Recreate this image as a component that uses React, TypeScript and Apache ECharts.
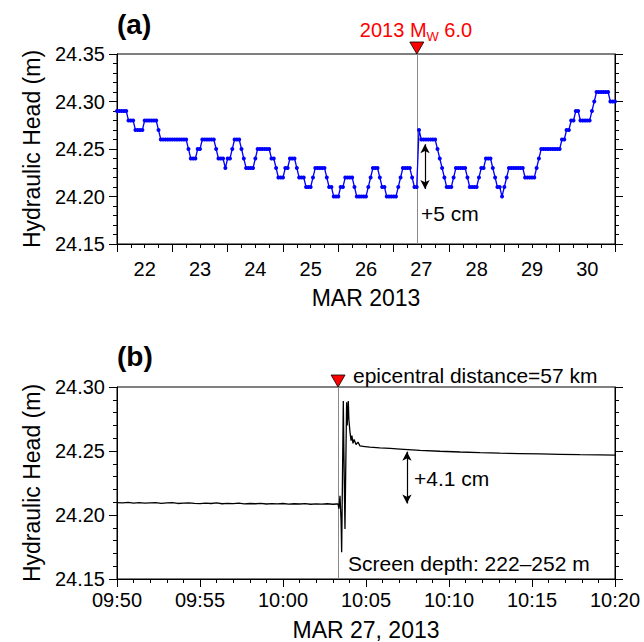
import React, { useEffect, useRef } from 'react';
import * as echarts from 'echarts';

const FONT = "'Liberation Sans', Arial, Helvetica, sans-serif";

// Panel (a): hourly hydraulic head, starting MAR 22 2013 00:00 (one value per hour)
const dayLabels = ['22', '23', '24', '25', '26', '27', '28', '29', '30'];
const headA = [
  // Mar 22
  24.29, 24.29, 24.29, 24.29, 24.29, 24.28, 24.28, 24.28, 24.27, 24.27, 24.27, 24.27,
  24.28, 24.28, 24.28, 24.28, 24.28, 24.28, 24.27, 24.26, 24.26, 24.26, 24.26, 24.26,
  // Mar 23
  24.26, 24.26, 24.26, 24.26, 24.26, 24.26, 24.26, 24.25, 24.24, 24.24, 24.24, 24.25,
  24.25, 24.26, 24.26, 24.26, 24.26, 24.26, 24.26, 24.25, 24.24, 24.24, 24.24, 24.23,
  // Mar 24
  24.24, 24.24, 24.25, 24.26, 24.26, 24.26, 24.25, 24.24, 24.23, 24.23, 24.23, 24.23,
  24.24, 24.25, 24.25, 24.25, 24.25, 24.25, 24.25, 24.24, 24.24, 24.23, 24.22, 24.22,
  // Mar 25
  24.22, 24.23, 24.23, 24.24, 24.24, 24.24, 24.23, 24.22, 24.22, 24.22, 24.21, 24.21,
  24.21, 24.22, 24.23, 24.23, 24.23, 24.23, 24.23, 24.22, 24.21, 24.21, 24.20, 24.20,
  // Mar 26
  24.20, 24.21, 24.21, 24.22, 24.22, 24.22, 24.22, 24.21, 24.20, 24.20, 24.20, 24.20,
  24.20, 24.21, 24.22, 24.23, 24.23, 24.23, 24.22, 24.21, 24.21, 24.20, 24.20, 24.20,
  // Mar 27
  24.20, 24.20, 24.21, 24.22, 24.23, 24.23, 24.23, 24.23, 24.22, 24.21, 24.21, 24.27,
  24.26, 24.26, 24.26, 24.26, 24.26, 24.26, 24.26, 24.25, 24.24, 24.23, 24.22, 24.21,
  // Mar 28
  24.21, 24.21, 24.22, 24.23, 24.23, 24.23, 24.23, 24.23, 24.22, 24.21, 24.21, 24.21,
  24.21, 24.22, 24.23, 24.23, 24.24, 24.24, 24.24, 24.23, 24.22, 24.21, 24.21, 24.20,
  // Mar 29
  24.21, 24.22, 24.23, 24.23, 24.23, 24.23, 24.23, 24.23, 24.23, 24.22, 24.22, 24.22,
  24.22, 24.22, 24.23, 24.24, 24.25, 24.25, 24.25, 24.25, 24.25, 24.25, 24.25, 24.25,
  // Mar 30
  24.25, 24.26, 24.26, 24.27, 24.27, 24.28, 24.28, 24.29, 24.29, 24.28, 24.28, 24.28,
  24.28, 24.28, 24.29, 24.30, 24.31, 24.31, 24.31, 24.31, 24.31, 24.31, 24.30, 24.30,
  // Mar 31 00:00
  24.30,
];
const eqHourA = 130.05; // 2013-03-27 10:03 local, in hours after MAR 22 00:00
const arrowA = { x: 133.6, top: 24.255, bottom: 24.208 };

// Panel (b): MAR 27 2013, seconds after 09:50:00
const timesB = [
  0, 20, 40, 60, 80, 100, 120, 140, 160, 180, 200, 220, 240, 260, 280, 300, 320, 340, 360, 380,
  400, 420, 440, 460, 480, 500, 520, 540, 560, 580, 600, 620, 640, 660, 680, 700, 720, 740, 760,
  780, 795, 799, 802, 806, 810, 812, 815, 818, 820, 824, 827, 830, 832, 836, 838, 842, 846, 849,
  853, 857, 864, 871, 878, 896, 914, 950, 987, 1023, 1095, 1167, 1240, 1312, 1384, 1456, 1529,
  1601, 1673, 1746, 1800,
];
const headB = [
  24.2097, 24.2094, 24.2098, 24.2093, 24.2096, 24.2092, 24.2095, 24.2097, 24.2091, 24.2094,
  24.2096, 24.209, 24.2093, 24.2095, 24.2091, 24.2089, 24.2093, 24.209, 24.2094, 24.2088,
  24.2091, 24.2089, 24.2092, 24.2087, 24.209, 24.2088, 24.2091, 24.2086, 24.2089, 24.2087,
  24.209, 24.2085, 24.2088, 24.2086, 24.2089, 24.2084, 24.2087, 24.2085, 24.2088, 24.2084,
  24.2086, 24.2086, 24.205, 24.215, 24.195, 24.171, 24.23, 24.289, 24.25, 24.189, 24.24,
  24.288, 24.27, 24.289, 24.275, 24.265, 24.258, 24.262, 24.256, 24.259, 24.255, 24.257,
  24.254, 24.2535, 24.253, 24.2525, 24.252, 24.2515, 24.2505, 24.2498, 24.2492, 24.2487,
  24.2483, 24.248, 24.2477, 24.2474, 24.2471, 24.2469, 24.2467,
];
const eqSecB = 799; // 10:03:19
const arrowB = { x: 1048, top: 24.2495, bottom: 24.209 };

const pad = (n: number) => (n < 10 ? '0' + n : '' + n);
const clockLabel = (sec: number) => {
  const m = 9 * 60 + 50 + Math.round(sec / 60);
  return pad(Math.floor(m / 60)) + ':' + pad(m % 60);
};

const black = '#000';
const axisLineStyle = { lineStyle: { color: black, width: 1 } };
const tickStyle = { length: 8, lineStyle: { color: black, width: 1 } };
const minorStyle = (n: number) => ({ show: true, splitNumber: n, length: 4, lineStyle: { color: black, width: 1 } });
const labelFont = { fontSize: 20, color: black, fontFamily: FONT };
const nameFont = { fontSize: 23, color: black, fontFamily: FONT };

function buildOption() {
  const yLeft = (grid: number, min: number, max: number) => ({
    gridIndex: grid,
    type: 'value',
    position: 'left',
    min,
    max,
    interval: 0.05,
    axisLine: { show: true, ...axisLineStyle },
    axisTick: tickStyle,
    minorTick: minorStyle(5),
    splitLine: { show: false },
    axisLabel: { ...labelFont, margin: 12, formatter: (v: number) => v.toFixed(2) },
    name: 'Hydraulic Head (m)',
    nameLocation: 'middle',
    nameGap: 74,
    nameRotate: 90,
    nameTextStyle: nameFont,
  });
  const yRight = (grid: number, min: number, max: number) => ({
    gridIndex: grid,
    type: 'value',
    position: 'right',
    min,
    max,
    interval: 0.05,
    axisLine: { show: true, ...axisLineStyle },
    axisTick: tickStyle,
    minorTick: minorStyle(5),
    splitLine: { show: false },
    axisLabel: { show: false },
  });

  return {
    animation: false,
    backgroundColor: '#fff',
    textStyle: { fontFamily: FONT },
    grid: [
      { left: 117, top: 54, width: 498, height: 190, show: true, borderColor: black, borderWidth: 1, backgroundColor: 'transparent' },
      { left: 117, top: 387, width: 498, height: 193, show: true, borderColor: black, borderWidth: 1, backgroundColor: 'transparent' },
    ],
    xAxis: [
      {
        gridIndex: 0,
        type: 'value',
        position: 'bottom',
        min: 0,
        max: 216,
        interval: 24,
        axisLine: { show: true, onZero: false, ...axisLineStyle },
        axisTick: tickStyle,
        minorTick: minorStyle(4),
        splitLine: { show: false },
        axisLabel: { show: false },
      },
      {
        gridIndex: 0,
        type: 'category',
        position: 'bottom',
        data: dayLabels,
        boundaryGap: true,
        axisLine: { show: false, onZero: false },
        axisTick: { show: false },
        splitLine: { show: false },
        axisLabel: { ...labelFont, margin: 15 },
        name: 'MAR 2013',
        nameLocation: 'middle',
        nameGap: 42,
        nameTextStyle: nameFont,
      },
      {
        gridIndex: 1,
        type: 'value',
        position: 'bottom',
        min: 0,
        max: 1800,
        interval: 300,
        axisLine: { show: true, onZero: false, ...axisLineStyle },
        axisTick: tickStyle,
        minorTick: minorStyle(5),
        splitLine: { show: false },
        axisLabel: { ...labelFont, margin: 11, formatter: (v: number) => clockLabel(v) },
        name: 'MAR 27, 2013',
        nameLocation: 'middle',
        nameGap: 39,
        nameTextStyle: nameFont,
      },
    ],
    yAxis: [yLeft(0, 24.15, 24.35), yRight(0, 24.15, 24.35), yLeft(1, 24.15, 24.3), yRight(1, 24.15, 24.3)],
    series: [
      {
        type: 'line',
        xAxisIndex: 0,
        yAxisIndex: 0,
        data: headA.map((v, i) => [i, v]),
        symbol: 'circle',
        symbolSize: 4,
        showSymbol: true,
        color: '#0000ff',
        lineStyle: { color: '#0000ff', width: 1.3 },
        itemStyle: { color: '#0000ff' },
        z: 5,
        markLine: {
          silent: true,
          animation: false,
          label: { show: false },
          data: [
            [
              { coord: [eqHourA, 24.35], symbol: 'none' },
              { coord: [eqHourA, 24.15], symbol: 'none', lineStyle: { color: '#8a8a8a', width: 1, type: 'solid' } },
            ],
            [
              { coord: [arrowA.x, arrowA.top], symbol: 'arrow', symbolSize: [7, 9] },
              { coord: [arrowA.x, arrowA.bottom], symbol: 'arrow', symbolSize: [7, 9], lineStyle: { color: black, width: 1.2, type: 'solid' } },
            ],
          ],
        },
        markPoint: {
          silent: true,
          animation: false,
          data: [{ coord: [eqHourA, 24.35] }],
          symbol: 'triangle',
          symbolRotate: 180,
          symbolSize: [14, 12],
          symbolOffset: [0, -6],
          itemStyle: { color: '#ff0000', borderColor: black, borderWidth: 0.8 },
          label: { show: false },
        },
      },
      {
        type: 'line',
        xAxisIndex: 2,
        yAxisIndex: 2,
        data: timesB.map((t, i) => [t, headB[i]]),
        showSymbol: false,
        symbol: 'none',
        color: black,
        lineStyle: { color: black, width: 1.3 },
        z: 5,
        markLine: {
          silent: true,
          animation: false,
          label: { show: false },
          data: [
            [
              { coord: [eqSecB, 24.3], symbol: 'none' },
              { coord: [eqSecB, 24.15], symbol: 'none', lineStyle: { color: '#8a8a8a', width: 1, type: 'solid' } },
            ],
            [
              { coord: [arrowB.x, arrowB.top], symbol: 'arrow', symbolSize: [7, 9] },
              { coord: [arrowB.x, arrowB.bottom], symbol: 'arrow', symbolSize: [7, 9], lineStyle: { color: black, width: 1.2, type: 'solid' } },
            ],
          ],
        },
        markPoint: {
          silent: true,
          animation: false,
          data: [{ coord: [eqSecB, 24.3] }],
          symbol: 'triangle',
          symbolRotate: 180,
          symbolSize: [14, 12],
          symbolOffset: [0, -6],
          itemStyle: { color: '#ff0000', borderColor: black, borderWidth: 0.8 },
          label: { show: false },
        },
      },
    ],
    graphic: [
      { type: 'text', left: 117, top: 10, style: { text: '(a)', fontSize: 28, fontWeight: 'bold', fontFamily: FONT, fill: black } },
      { type: 'text', left: 117, top: 342, style: { text: '(b)', fontSize: 28, fontWeight: 'bold', fontFamily: FONT, fill: black } },
      {
        type: 'text',
        x: 416,
        y: 30,
        style: {
          text: '{a|2013 M}{s|W}{a| 6.0}',
          align: 'center',
          verticalAlign: 'middle',
          rich: {
            a: { fontSize: 20, fill: '#ff0000', fontFamily: FONT, lineHeight: 26, verticalAlign: 'middle' },
            s: { fontSize: 13, fill: '#ff0000', fontFamily: FONT, lineHeight: 13, verticalAlign: 'bottom' },
          },
        },
      },
      { type: 'text', x: 421, y: 213, style: { text: '+5 cm', fontSize: 21, fontFamily: FONT, fill: black, align: 'left', verticalAlign: 'middle' } },
      { type: 'text', x: 414, y: 478, style: { text: '+4.1 cm', fontSize: 21, fontFamily: FONT, fill: black, align: 'left', verticalAlign: 'middle' } },
      { type: 'text', x: 353, y: 375, style: { text: 'epicentral distance=57 km', fontSize: 21, fontFamily: FONT, fill: black, align: 'left', verticalAlign: 'middle' } },
      { type: 'text', x: 348, y: 563, style: { text: 'Screen depth: 222\u2013252 m', fontSize: 21, fontFamily: FONT, fill: black, align: 'left', verticalAlign: 'middle' } },
    ],
  };
}

export default function App() {
  const ref = useRef<HTMLDivElement>(null);
  useEffect(() => {
    document.body.style.margin = '0';
    if (!ref.current) return;
    const chart = echarts.init(ref.current, undefined, { renderer: 'svg' });
    chart.setOption(buildOption() as any);
    return () => chart.dispose();
  }, []);
  return <div ref={ref} style={{ width: 644, height: 642 }} />;
}
